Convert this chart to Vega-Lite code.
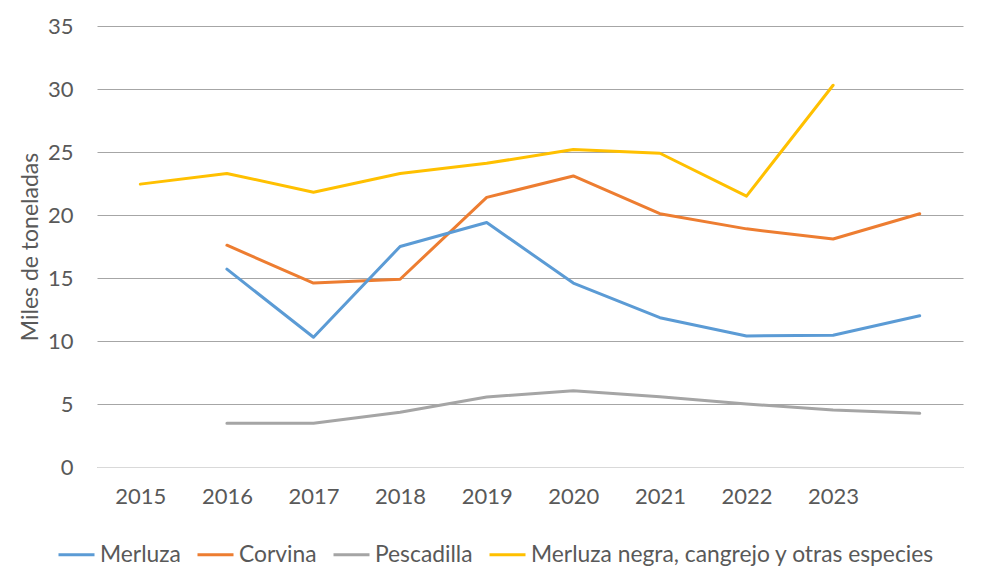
{
  "$schema": "https://vega.github.io/schema/vega-lite/v6.json",
  "width": 866,
  "height": 441,
  "autosize": {"type": "none"},
  "padding": {"left": 97, "top": 26, "right": 20, "bottom": 109},
  "background": "white",
  "config": {
    "font": "Lato",
    "view": {"stroke": null}
  },
  "data": {
    "values": [
      {"anio": "2015", "serie": "Merluza negra,  cangrejo y otras especies", "valor": 22.45},
      {"anio": "2016", "serie": "Merluza negra,  cangrejo y otras especies", "valor": 23.3},
      {"anio": "2017", "serie": "Merluza negra,  cangrejo y otras especies", "valor": 21.8},
      {"anio": "2018", "serie": "Merluza negra,  cangrejo y otras especies", "valor": 23.3},
      {"anio": "2019", "serie": "Merluza negra,  cangrejo y otras especies", "valor": 24.1},
      {"anio": "2020", "serie": "Merluza negra,  cangrejo y otras especies", "valor": 25.2},
      {"anio": "2021", "serie": "Merluza negra,  cangrejo y otras especies", "valor": 24.9},
      {"anio": "2022", "serie": "Merluza negra,  cangrejo y otras especies", "valor": 21.5},
      {"anio": "2023", "serie": "Merluza negra,  cangrejo y otras especies", "valor": 30.3},
      {"anio": "2016", "serie": "Corvina", "valor": 17.6},
      {"anio": "2017", "serie": "Corvina", "valor": 14.6},
      {"anio": "2018", "serie": "Corvina", "valor": 14.9},
      {"anio": "2019", "serie": "Corvina", "valor": 21.4},
      {"anio": "2020", "serie": "Corvina", "valor": 23.1},
      {"anio": "2021", "serie": "Corvina", "valor": 20.1},
      {"anio": "2022", "serie": "Corvina", "valor": 18.9},
      {"anio": "2023", "serie": "Corvina", "valor": 18.1},
      {"anio": "2024", "serie": "Corvina", "valor": 20.1},
      {"anio": "2016", "serie": "Merluza", "valor": 15.7},
      {"anio": "2017", "serie": "Merluza", "valor": 10.3},
      {"anio": "2018", "serie": "Merluza", "valor": 17.5},
      {"anio": "2019", "serie": "Merluza", "valor": 19.4},
      {"anio": "2020", "serie": "Merluza", "valor": 14.6},
      {"anio": "2021", "serie": "Merluza", "valor": 11.85},
      {"anio": "2022", "serie": "Merluza", "valor": 10.4},
      {"anio": "2023", "serie": "Merluza", "valor": 10.45},
      {"anio": "2024", "serie": "Merluza", "valor": 12.0},
      {"anio": "2016", "serie": "Pescadilla", "valor": 3.47},
      {"anio": "2017", "serie": "Pescadilla", "valor": 3.47},
      {"anio": "2018", "serie": "Pescadilla", "valor": 4.34},
      {"anio": "2019", "serie": "Pescadilla", "valor": 5.55},
      {"anio": "2020", "serie": "Pescadilla", "valor": 6.06},
      {"anio": "2021", "serie": "Pescadilla", "valor": 5.58},
      {"anio": "2022", "serie": "Pescadilla", "valor": 5.0},
      {"anio": "2023", "serie": "Pescadilla", "valor": 4.52},
      {"anio": "2024", "serie": "Pescadilla", "valor": 4.26}
    ]
  },
  "mark": {"type": "line", "strokeWidth": 3, "strokeJoin": "round", "strokeCap": "round"},
  "encoding": {
    "x": {
      "field": "anio",
      "type": "ordinal",
      "scale": {"type": "point", "padding": 0.5, "domain": ["2015", "2016", "2017", "2018", "2019", "2020", "2021", "2022", "2023", "2024"]},
      "axis": {
        "title": null,
        "labelAngle": 0,
        "labelExpr": "datum.value == '2024' ? '' : datum.label",
        "labelFontSize": 22,
        "labelColor": "#595959",
        "labelPadding": 19,
        "ticks": false,
        "domain": true,
        "domainColor": "#d9d9d9",
        "domainWidth": 1,
        "grid": false
      }
    },
    "y": {
      "field": "valor",
      "type": "quantitative",
      "scale": {"domain": [0, 35], "nice": false},
      "axis": {
        "title": "Miles de toneladas",
        "titleFontSize": 23,
        "titleFontWeight": "normal",
        "titleColor": "#595959",
        "titlePadding": 5,
        "values": [0, 5, 10, 15, 20, 25, 30, 35],
        "labelFontSize": 22,
        "labelColor": "#595959",
        "labelPadding": 24,
        "ticks": false,
        "domain": false,
        "grid": true,
        "gridColor": "#a6a6a6",
        "gridWidth": 1
      }
    },
    "color": {
      "field": "serie",
      "type": "nominal",
      "scale": {
        "domain": ["Merluza", "Corvina", "Pescadilla", "Merluza negra,  cangrejo y otras especies"],
        "range": ["#5B9BD5", "#ED7D31", "#A5A5A5", "#FFC000"]
      },
      "legend": {
        "title": null,
        "orient": "none",
        "direction": "horizontal",
        "legendX": -40,
        "legendY": 509,
        "symbolType": "stroke",
        "symbolSize": 1296,
        "symbolStrokeWidth": 3,
        "labelFontSize": 22.8,
        "labelColor": "#595959",
        "labelOffset": 4,
        "columnPadding": 10,
        "labelLimit": 600
      }
    }
  }
}
